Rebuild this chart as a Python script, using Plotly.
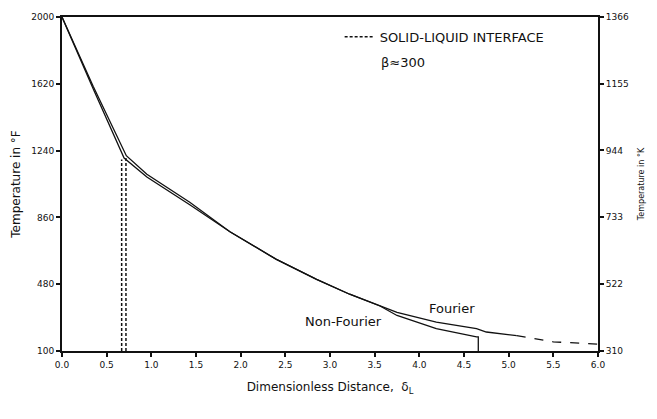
import plotly.graph_objects as go

# ---- data ----
fourier_x = [0.0, 0.35, 0.72, 0.95, 1.43, 1.88, 2.4, 2.85, 3.22, 3.56, 3.75, 4.19, 4.64, 4.75, 5.02, 5.09]
fourier_y = [2000, 1605, 1211, 1105, 946, 778, 621, 507, 423, 358, 320, 264, 227, 208, 190, 187]
fourier_tail_x = [5.09, 5.5, 6.0]
fourier_tail_y = [187, 152, 139]

nonfourier_x = [0.0, 0.35, 0.695, 0.95, 1.43, 1.88, 2.4, 2.85, 3.22, 3.56, 3.75, 4.19, 4.64, 4.66, 4.66]
nonfourier_y = [2000, 1590, 1198, 1090, 932, 778, 621, 507, 423, 356, 302, 227, 180, 180, 100]

interface_x = [0.668, 0.716]
interface_top = [1190, 1200]

x_ticks = [0.0, 0.5, 1.0, 1.5, 2.0, 2.5, 3.0, 3.5, 4.0, 4.5, 5.0, 5.5, 6.0]
yF_ticks = [100, 480, 860, 1240, 1620, 2000]
yK_ticks = [310, 522, 733, 944, 1155, 1366]

FONT = "DejaVu Sans"
INK = "#111111"

fig = go.Figure()
line_style = dict(color=INK, width=1.3)

fig.add_trace(go.Scatter(x=fourier_x, y=fourier_y, mode="lines", line=line_style,
                         showlegend=False, hoverinfo="skip"))
fig.add_trace(go.Scatter(x=fourier_tail_x, y=fourier_tail_y, mode="lines",
                         line=dict(color=INK, width=1.3, dash="dash"),
                         showlegend=False, hoverinfo="skip"))
fig.add_trace(go.Scatter(x=nonfourier_x, y=nonfourier_y, mode="lines", line=line_style,
                         showlegend=False, hoverinfo="skip"))

for i, (xi, ti) in enumerate(zip(interface_x, interface_top)):
    fig.add_trace(go.Scatter(x=[xi, xi], y=[yF_ticks[0], ti], mode="lines",
                             line=dict(color=INK, width=1.5, dash="3px,2px"),
                             name="SOLID-LIQUID INTERFACE", showlegend=(i == 0),
                             hoverinfo="skip"))

# invisible trace to activate secondary axis
fig.add_trace(go.Scatter(x=[x_ticks[0]], y=[yK_ticks[0]], yaxis="y2", mode="markers",
                         marker=dict(opacity=0), showlegend=False, hoverinfo="skip"))

fig.add_annotation(x=4.37, y=341, text="Fourier", showarrow=False,
                   font=dict(family=FONT, size=13, color=INK))
fig.add_annotation(x=3.15, y=268, text="Non-Fourier", showarrow=False,
                   font=dict(family=FONT, size=13, color=INK))
fig.add_annotation(xref="paper", yref="paper", x=(379 - 62) / 536, y=(351 - 58) / 339,
                   xanchor="left", yanchor="middle", text="β≈300", showarrow=False,
                   font=dict(family=FONT, size=13, color=INK))

axis_common = dict(showgrid=False, zeroline=False, showline=True, linecolor=INK, linewidth=2,
                   ticks="outside", ticklen=4, tickcolor=INK, tickwidth=1.5,
                   tickfont=dict(family=FONT, size=9, color=INK))

fig.update_layout(
    width=657, height=419,
    margin=dict(l=62, r=59, t=12, b=68),
    paper_bgcolor="white", plot_bgcolor="white",
    font=dict(family=FONT, color=INK),
    showlegend=True,
    legend=dict(x=(345 - 62) / 536 - 0.01, y=(351 - 32) / 339, xanchor="left", yanchor="middle",
                bgcolor="rgba(0,0,0,0)", font=dict(family=FONT, size=13, color=INK),
                itemwidth=30, tracegroupgap=0),
    xaxis=dict(range=[0, 6], tickvals=x_ticks, ticktext=[f"{v:.1f}" for v in x_ticks],
               mirror=True,
               title=dict(text="Dimensionless Distance,  δ<sub>L</sub>", standoff=14,
                          font=dict(family=FONT, size=12, color=INK)),
               **axis_common),
    yaxis=dict(range=[100, 2000], tickvals=yF_ticks, ticktext=[str(v) for v in yF_ticks],
               title=dict(text="Temperature in °F", standoff=8,
                          font=dict(family=FONT, size=12, color=INK)),
               **axis_common),
    yaxis2=dict(range=[310, 1366], tickvals=yK_ticks, ticktext=[str(v) for v in yK_ticks],
                overlaying="y", side="right",
                title=dict(text="Temperature in °K", standoff=10,
                           font=dict(family=FONT, size=8, color=INK)),
                **axis_common),
)

fig.write_html("out.html")
